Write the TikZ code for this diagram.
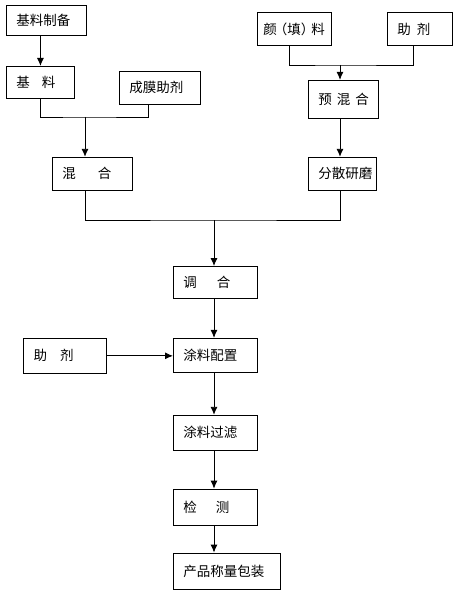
\documentclass[tikz,border=0pt]{standalone}
\usepackage{fontspec}
\setmainfont{Noto Sans CJK SC}
\usetikzlibrary{arrows.meta,positioning}

\begin{document}
\begin{tikzpicture}[x=1pt,y=-1pt]
      \newcommand{\boxpad}[0]{10pt}
      \newcommand{\boxheight}[0]{33pt}
      \newcommand{\colwidth}[0]{64pt}
      
      \useasboundingbox (0,0) rectangle (464,591);
      
      \tikzstyle{proc}=[
        rectangle,
        draw=black,
        anchor=north west,
        align=left,
        line width=0.9pt,
        inner xsep=\boxpad,
        inner ysep=0pt,
        minimum height=\boxheight,
        font=\fontsize{13.5pt}{16pt}\selectfont,
      ]
      \tikzstyle{link} = [
        line width=0.9pt,
        draw,
      ]
      \tikzstyle{edge} = [
        link,
        -{Latex[length=8pt,width=7pt]},
      ]
      
      % left branch
      {
        \node[proc,text width=60pt,minimum height=30pt] (prep) at (6,5) {基料制备};
        \node[proc,text width=48pt,minimum height=32pt] (base)
          at ([yshift=-30pt] prep.south west) {基\kern12pt料};
        \node[proc,text width=61pt] (film)
          at ([xshift=44pt, yshift=-5pt] base.north east) {成膜助剂};
        \node[proc,text width=60pt] (mix)
          at ([xshift=46pt, yshift=-58pt] base.south west) {混\kern22pt合};
        
        \coordinate (jI) at (85,117);
        
        \draw[edge] (prep.south -| base.north) -- (base.north);
        \draw[link] (base.south) |- (jI) -| ([xshift=-11pt] film.south);
        \draw[edge] (jI) -- (jI |- mix.north);
      }
      
      % right branch
      {
        \node[proc,text width=62pt,inner xsep=6pt] (pigment) at (257,12) {颜\kern-3pt（填）\kern-3pt料};
        \node[proc,text width=45pt] (addR)
          at ([xshift=55pt] pigment.north east) {助\kern6pt剂};
        \node[proc,text width=50pt,minimum height=38pt] (premix)
          at ([xshift=51pt, yshift=-34pt] pigment.south west) {预\kern5pt混\kern5pt合};
        \node[proc,text width=48pt] (grind)
          at ([yshift=-38pt] premix.south west) {分散研磨};
        
        \coordinate (jII) at (340,65);
        
        \draw[link] ([xshift=-5pt] pigment.south) |- (jII) -| ([xshift=-6pt] addR.south);
        \draw[edge] (jII) -- (jII |- premix.north);
        \draw[edge] (jII |- premix.south) -- (jII |- grind.north);
      }
      
      % main column
      {
        \node[proc,text width=\colwidth,minimum height=32pt] (blend) at (173,266) {调\kern20pt合};
        \node[proc,text width=\colwidth,minimum height=34pt] (config)
          at ([yshift=-39pt] blend.south west) {涂料配置};
        \node[proc,text width=63pt,minimum height=35pt,anchor=north east] (addL)
          at ([xshift=-66pt] config.north west) {助\kern13pt剂};
        \node[proc,text width=\colwidth,minimum height=35pt] (filter)
          at ([yshift=-42pt] config.south west) {涂料过滤};
        \node[proc,text width=\colwidth,minimum height=36pt] (test)
          at ([yshift=-38pt] filter.south west) {检\kern19pt测};
        \node[proc,text width=87pt,minimum height=36pt] (pack)
          at ([yshift=-27pt] test.south west) {产品称量包装};
        
        \coordinate (jIII) at (214,220);
        
        \draw[link] (jI |- mix.south) |- (jIII) -| (jII |- grind.south);
        \draw[edge] (jIII) -- (jIII |- blend.north);
        \draw[edge] (jIII |- blend.south) -- (jIII |- config.north);
        \draw[edge] (addL.east) -- (addL.east -| config.west);
        \draw[edge] (jIII |- config.south) -- (jIII |- filter.north);
        \draw[edge] (jIII |- filter.south) -- (jIII |- test.north);
        \draw[edge] (jIII |- test.south) -- (jIII |- pack.north);
      }
    \end{tikzpicture}
\end{document}
